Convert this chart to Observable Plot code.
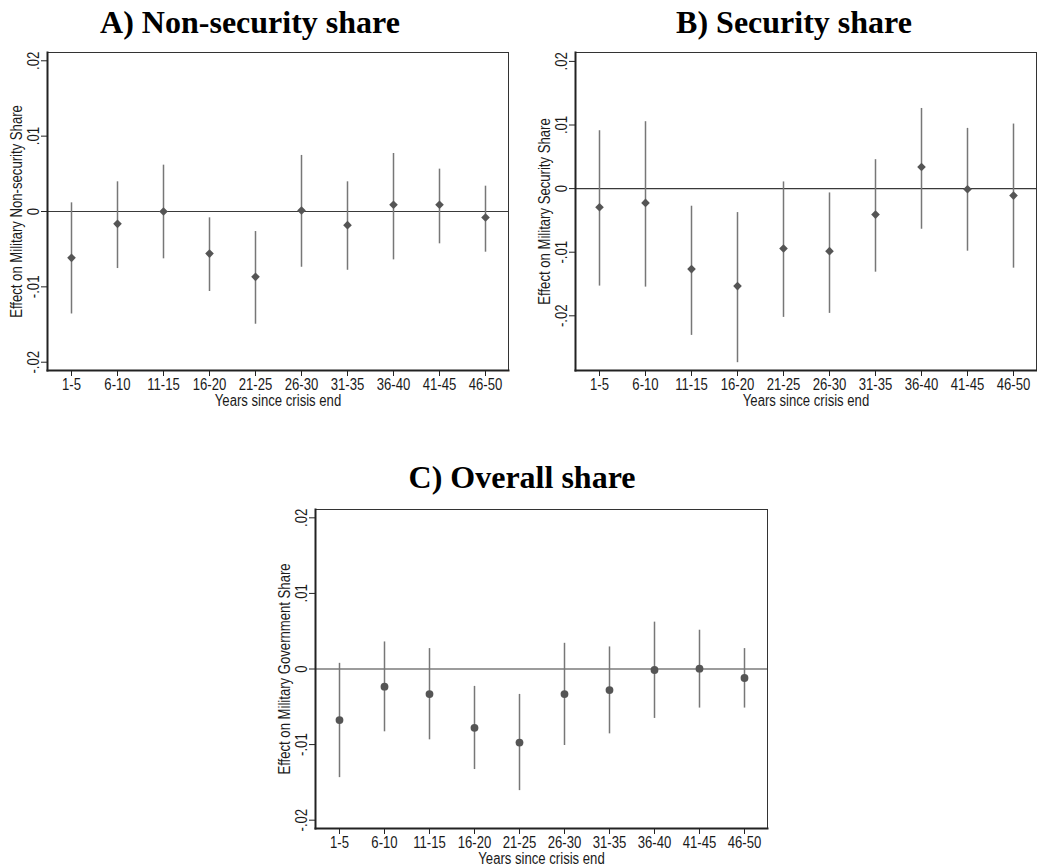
<!DOCTYPE html>
<html>
<head>
<meta charset="utf-8">
<script src="https://cdn.jsdelivr.net/npm/d3@7"></script>
<script src="https://cdn.jsdelivr.net/npm/@observablehq/plot@0.6"></script>
<style>
  html, body { margin: 0; padding: 0; background: #fff; }
  body { width: 1037px; height: 867px; position: relative; overflow: hidden; }
  .title { position: absolute; font-family: "Liberation Serif", "Times New Roman", serif; font-weight: bold; font-size: 32px; line-height: 32px; color: #000; white-space: nowrap; transform: translateX(-50%); }
  .panel { position: absolute; }
</style>
</head>
<body>
<div class="title" style="left:250px; top:6px;">A) Non-security share</div>
<div class="title" style="left:794px; top:6px;">B) Security share</div>
<div class="title" style="left:522px; top:461px;">C) Overall share</div>
<div class="panel" id="pA" style="left:0px; top:40px;"></div>
<div class="panel" id="pB" style="left:528px; top:40px;"></div>
<div class="panel" id="pC" style="left:268px; top:497px;"></div>
<script>
// ---- data ----
const categories = ["1-5","6-10","11-15","16-20","21-25","26-30","31-35","36-40","41-45","46-50"];
const yTicks = [-0.02, -0.01, 0, 0.01, 0.02];

const nonSecEst = [-0.00615, -0.00164, 0.0000, -0.00558, -0.00867, 0.00013, -0.00181, 0.00089, 0.00089, -0.00080];
const nonSecLo  = [-0.01360, -0.00757, -0.00628, -0.01062, -0.01496, -0.00740, -0.00780, -0.00642, -0.00429, -0.00540];
const nonSecHi  = [0.00115, 0.00394, 0.00615, -0.00084, -0.00266, 0.00744, 0.00394, 0.00770, 0.00562, 0.00336];

const secEst = [-0.00293, -0.00225, -0.01266, -0.01533, -0.00942, -0.00984, -0.00408, 0.00340, -0.00010, -0.00110];
const secLo  = [-0.01533, -0.01549, -0.02308, -0.02737, -0.02025, -0.01962, -0.01314, -0.00639, -0.00984, -0.01251];
const secHi  = [0.00910, 0.01052, -0.00277, -0.00377, 0.00105, -0.00068, 0.00455, 0.01260, 0.00947, 0.01015];

const allEst = [-0.00676, -0.00234, -0.00332, -0.00778, -0.00973, -0.00332, -0.00279, -0.00013, 0.00004, -0.00119];
const allLo  = [-0.01437, -0.00831, -0.00937, -0.01330, -0.01609, -0.01012, -0.00858, -0.00654, -0.00517, -0.00517];
const allHi  = [0.00075, 0.00358, 0.00270, -0.00230, -0.00336, 0.00340, 0.00292, 0.00620, 0.00513, 0.00270];

// ---- font choice ----
function hasFont(name) {
  const c = document.createElement("canvas").getContext("2d");
  const s = "Effect on Military 1-5 6-10 .02";
  c.font = "40px monospace"; const w0 = c.measureText(s).width;
  c.font = `40px '${name}', monospace`; const w1 = c.measureText(s).width;
  return Math.abs(w0 - w1) > 0.5;
}
let axisFont = "'Liberation Sans', Arial, sans-serif";
let squeeze = 0.82;
if (hasFont("Liberation Sans Narrow")) { axisFont = "'Liberation Sans Narrow', sans-serif"; squeeze = 1; }
else if (hasFont("Arial Narrow")) { axisFont = "'Arial Narrow', sans-serif"; squeeze = 1; }

const fmt = d => d === 0 ? "0" : (d < 0 ? "-" : "") + Math.abs(d).toFixed(2).replace(/^0/, "");

function panel({est, lo, hi, yDomain, yLabel, symbol, r, width, height, ml, mr, mt, mb}) {
  const rows = categories.map((c, i) => ({cat: c, est: est[i], lo: lo[i], hi: hi[i]}));
  return Plot.plot({
    width, height,
    marginLeft: ml, marginRight: mr, marginTop: mt, marginBottom: mb,
    style: {fontFamily: axisFont, fontSize: "16px", color: "#1a1a1a", background: "white", overflow: "visible"},
    x: {type: "point", domain: categories, padding: 0.5},
    y: {domain: yDomain},
    marks: [
      Plot.frame({stroke: "#333", strokeWidth: 1}),
      Plot.ruleY([0], {stroke: "#3a3a3a", strokeWidth: 1.2}),
      Plot.ruleX(rows, {x: "cat", y1: "lo", y2: "hi", stroke: "#777", strokeWidth: 1.5}),
      Plot.dot(rows, {x: "cat", y: "est", symbol, r, fill: "#555", stroke: "none"}),
      Plot.axisX({tickSize: 6, tickPadding: 2, stroke: "#222", label: "Years since crisis end", labelAnchor: "center", labelArrow: "none", labelOffset: 35}),
      Plot.axisY({ticks: yTicks, tickFormat: fmt, tickSize: 6, tickRotate: -90, stroke: "#222", label: yLabel, labelAnchor: "center", labelArrow: "none", labelOffset: 37}),
      Plot.frame({anchor: "left", stroke: "#222", strokeWidth: 2}),
      Plot.frame({anchor: "bottom", stroke: "#222", strokeWidth: 2})
    ]
  });
}

function mount(id, chart) {
  const el = document.getElementById(id);
  el.appendChild(chart);
  if (squeeze !== 1) {
    chart.querySelectorAll("text").forEach(t => {
      const L = t.getComputedTextLength();
      if (L > 0) {
        t.setAttribute("textLength", (L * squeeze).toFixed(2));
        t.setAttribute("lengthAdjust", "spacingAndGlyphs");
      }
    });
  }
}

mount("pA", panel({est: nonSecEst, lo: nonSecLo, hi: nonSecHi, yDomain: [-0.0211, 0.0211],
  yLabel: "Effect on Military Non-security Share", symbol: "diamond2", r: 3.9,
  width: 520, height: 372, ml: 47, mr: 12, mt: 12, mb: 42}));
mount("pB", panel({est: secEst, lo: secLo, hi: secHi, yDomain: [-0.0286, 0.0214],
  yLabel: "Effect on Military Security Share", symbol: "diamond2", r: 3.9,
  width: 509, height: 372, ml: 47, mr: 1, mt: 12, mb: 42}));
mount("pC", panel({est: allEst, lo: allLo, hi: allHi, yDomain: [-0.0211, 0.0211],
  yLabel: "Effect on Military Government Share", symbol: "circle", r: 3.9,
  width: 520, height: 370, ml: 47, mr: 21, mt: 12, mb: 39}));
</script>
</body>
</html>
